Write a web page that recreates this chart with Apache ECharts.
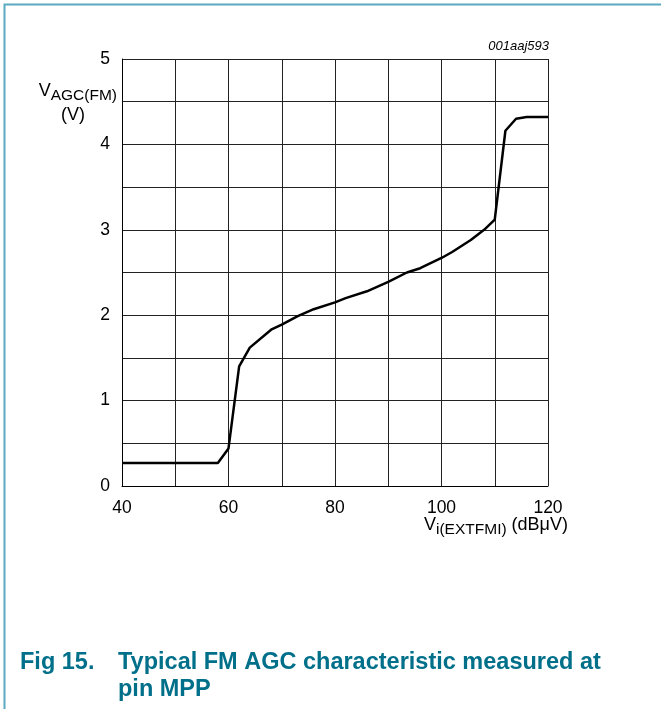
<!DOCTYPE html>
<html>
<head>
<meta charset="utf-8">
<script src="https://cdn.jsdelivr.net/npm/echarts@6/dist/echarts.min.js"></script>
<style>
html,body{margin:0;padding:0;background:#fff;}
#c{width:661px;height:709px;}
</style>
</head>
<body>
<div id="c"></div>
<script>
var xValues = [40, 58, 60, 62, 64, 68, 70, 73, 76, 80, 82, 86, 90, 93.5, 96, 100, 102, 105.5, 108, 110, 112, 114, 116, 120];
var yValues = [0.27, 0.27, 0.44, 1.40, 1.62, 1.83, 1.89, 1.99, 2.07, 2.15, 2.20, 2.28, 2.39, 2.50, 2.55, 2.67, 2.74, 2.88, 3.00, 3.12, 4.16, 4.30, 4.32, 4.32];
var xTickLabels = ['40', '60', '80', '100', '120'];
var yTickLabels = ['0', '1', '2', '3', '4', '5'];

var data = xValues.map(function (x, i) { return [x, yValues[i]]; });
var font = '"Liberation Sans", Arial, sans-serif';
var chart = echarts.init(document.getElementById('c'));
chart.setOption({
  animation: false,
  grid: { left: 122, right: 113, top: 59, bottom: 223 },
  xAxis: {
    type: 'value', min: 40, max: 120, interval: 10,
    axisLine: { lineStyle: { color: '#000', width: 1 } },
    axisTick: { show: false },
    axisLabel: {
      color: '#000', fontFamily: font, fontSize: 17.5, margin: 13,
      formatter: function (v) { return xTickLabels.indexOf(String(v)) >= 0 ? String(v) : ''; }
    },
    splitLine: { show: true, lineStyle: { color: '#222', width: 1 } }
  },
  yAxis: {
    type: 'value', min: 0, max: 5, interval: 0.5,
    axisLine: { show: true, lineStyle: { color: '#000', width: 1 } },
    axisTick: { show: false },
    axisLabel: {
      color: '#000', fontFamily: font, fontSize: 17.5, margin: 12,
      formatter: function (v) { return yTickLabels.indexOf(String(v)) >= 0 ? String(v) : ''; }
    },
    splitLine: { show: true, lineStyle: { color: '#222', width: 1 } }
  },
  series: [{
    type: 'line', data: data, symbol: 'none',
    lineStyle: { color: '#000', width: 2.5 }
  }],
  graphic: [
    { type: 'rect', shape: { x: 4.5, y: 4.5, width: 700, height: 720 }, style: { fill: 'none', stroke: '#5aaac0', lineWidth: 2 } },
    { type: 'text', right: 661 - 549, top: 40, style: { text: '001aaj593', font: 'italic 13px ' + font, fill: '#000', align: 'right' } },
    { type: 'text', right: 661 - 117, top: 82, style: {
        text: '{m|V}{s|AGC(FM)}', align: 'right',
        rich: { m: { font: '18px ' + font, fill: '#000' }, s: { font: '15.5px ' + font, fill: '#000', padding: [9, 0, 0, 0] } }
      } },
    { type: 'text', left: 61, top: 106, style: { text: '(V)', font: '18px ' + font, fill: '#000' } },
    { type: 'text', left: 424, top: 516, style: {
        text: '{m|V}{s|i(EXTFMI)}{m| (dB\u03bcV)}',
        rich: { m: { font: '18px ' + font, fill: '#000' }, s: { font: '15.5px ' + font, fill: '#000', padding: [9, 0, 0, 0] } }
      } },
    { type: 'text', left: 20, top: 651, style: { text: 'Fig 15.', font: 'bold 23.5px ' + font, fill: '#00708a' } },
    { type: 'text', left: 118, top: 651, style: { text: 'Typical FM AGC characteristic measured at', font: 'bold 23.5px ' + font, fill: '#00708a' } },
    { type: 'text', left: 118, top: 678, style: { text: 'pin MPP', font: 'bold 23.5px ' + font, fill: '#00708a' } }
  ]
});
</script>
</body>
</html>
